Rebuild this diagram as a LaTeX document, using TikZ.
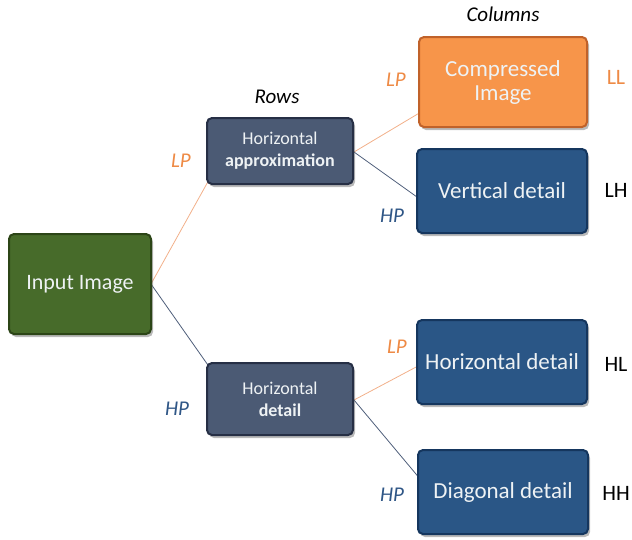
\documentclass[tikz,border=0pt]{standalone}
\usepackage{fontspec}
\setmainfont{Carlito}
\usetikzlibrary{shadows}
\definecolor{ingreen}{HTML}{476B2A}
\definecolor{ingreenD}{HTML}{2C4517}
\definecolor{slate}{HTML}{4B5A74}
\definecolor{slateD}{HTML}{262F45}
\definecolor{dblue}{HTML}{2A5686}
\definecolor{dblueD}{HTML}{15365E}
\definecolor{org}{HTML}{F7954A}
\definecolor{orgD}{HTML}{C0622A}
\definecolor{lporange}{HTML}{EE8A45}
\definecolor{hpblue}{HTML}{2F5686}
\definecolor{linegrey}{HTML}{4E5E7A}
\definecolor{lineorg}{HTML}{F2B08A}
\definecolor{txt}{HTML}{EEF2F4}
\tikzset{
  box/.style={draw, line width=2pt, rounded corners=5pt, text=txt, align=center,
    inner sep=2pt, drop shadow={shadow xshift=2pt, shadow yshift=-3pt, fill=black!60, opacity=.45}},
  greenbox/.style={box, fill=ingreen, draw=ingreenD, minimum width=142pt, minimum height=100pt, font=\fontsize{22}{26}\selectfont},
  slatebox/.style={box, fill=slate, draw=slateD, minimum width=146pt, minimum height=66pt, font=\fontsize{18}{22}\selectfont},
  bluebox/.style={box, fill=dblue, draw=dblueD, minimum width=170pt, minimum height=84pt, font=\fontsize{23}{27}\selectfont},
  orangebox/.style={box, fill=org, draw=orgD, minimum width=168pt, minimum height=90pt, font=\fontsize{23}{26}\selectfont},
  lp/.style={text=lporange, font=\fontsize{21}{24}\selectfont\itshape},
  hp/.style={text=hpblue, font=\fontsize{21}{24}\selectfont\itshape},
  band/.style={font=\fontsize{22}{25}\selectfont},
  head/.style={font=\fontsize{21}{24}\selectfont\itshape},
  lo/.style={draw=lineorg, line width=0.8pt},
  lb/.style={draw=linegrey, line width=0.8pt}
}
\begin{document}
\begin{tikzpicture}[x=1pt,y=-1pt]
\useasboundingbox (0,0) rectangle (632,539);
% connectors first
\coordinate (inR) at (151,284);
\coordinate (haIn) at (210,178);
\coordinate (hdIn) at (210,368);
\coordinate (haR) at (354,152);
\coordinate (hdR) at (354,400);
\coordinate (ciIn) at (421,112);
\coordinate (vdIn) at (417,197);
\coordinate (hrIn) at (418,366);
\coordinate (ddIn) at (421,480);
\draw[lo] (inR) -- (haIn);
\draw[lb] (inR) -- (hdIn);
\draw[lo] (haR) -- (ciIn);
\draw[lb] (haR) -- (vdIn);
\draw[lo] (hdR) -- (hrIn);
\draw[lb] (hdR) -- (ddIn);
% boxes
\node[greenbox] (in) at (80,284) {Input Image};
\node[slatebox] (ha) at (280,151) {Horizontal\\\textbf{approximation}};
\node[slatebox, minimum height=72pt] (hd) at (280,399) {Horizontal\\\textbf{detail}};
\node[orangebox] (ci) at (503,82) {Compressed\\[-2pt]Image};
\node[bluebox] (vd) at (502,191) {Vertical detail};
\node[bluebox] (hr) at (502,362) {Horizontal detail};
\node[bluebox] (dd) at (503,492) {Diagonal detail};
% headings
\node[head] (cols) at (503,14) {Columns};
\node[head] (rows) at (277,97) {Rows};
% filter labels
\node[lp] (lp1) at (181,161) {LP};
\node[hp] (hp1) at (177,409) {HP};
\node[lp] (lp2) at (396,80) {LP};
\node[hp] (hp2) at (392,216) {HP};
\node[lp] (lp3) at (397,347) {LP};
\node[hp] (hp3) at (392,495) {HP};
% band labels
\node[band, text=lporange] (ll) at (616,77) {LL};
\node[band] (lh) at (616,190) {LH};
\node[band] (hl) at (616,364) {HL};
\node[band] (hh) at (616,493) {HH};
\end{tikzpicture}
\end{document}
